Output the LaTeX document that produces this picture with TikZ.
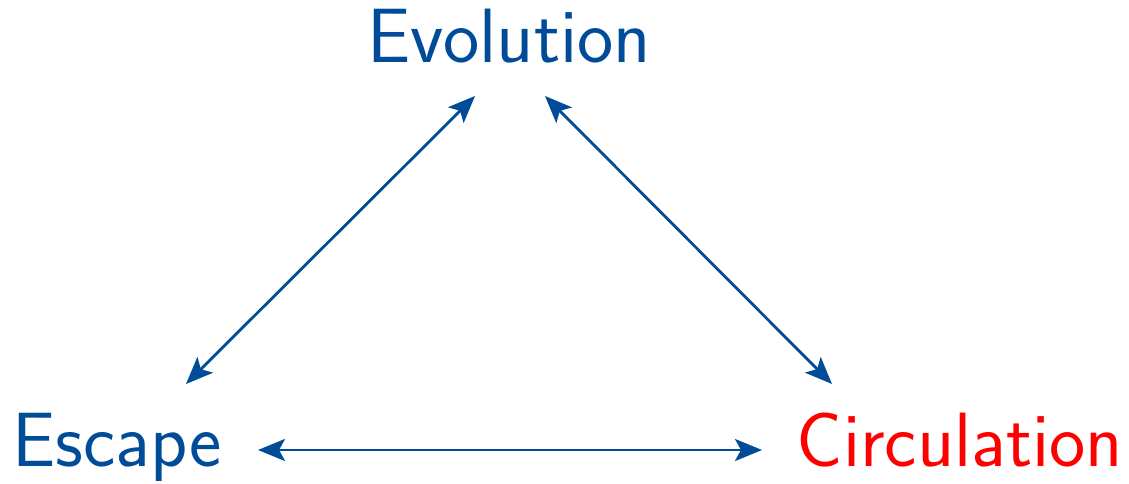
\documentclass[tikz,border=0pt]{standalone}
\usetikzlibrary{arrows.meta,calc}
\definecolor{myblue}{RGB}{0,76,153}
\definecolor{myred}{RGB}{255,0,0}
\tikzset{
  lbl/.style={font=\sffamily\fontsize{77}{90}\selectfont, inner sep=0pt, anchor=base},
  conn/.style={color=myblue, line width=2.8pt, arrows={Stealth[length=27pt,width=22pt,inset=6pt]-Stealth[length=27pt,width=22pt,inset=6pt]}}
}
\begin{document}
\begin{tikzpicture}[x=1pt,y=1pt]
\useasboundingbox (0,0) rectangle (1129,484);
\node[lbl, text=myblue] (evo) at (509,421) {Evolution};
\node[lbl, text=myblue] (esc) at (117,17) {Escape};
\node[lbl, text=myred] (cir) at (960,17) {Circulation};
\coordinate (evoL) at (475,388);
\coordinate (evoR) at (545,388);
\coordinate (escT) at (186,100);
\coordinate (cirT) at (832,100);
\coordinate (escR) at (258,34);
\coordinate (cirL) at (762,34);
\draw[conn] (evoL) -- (escT);
\draw[conn] (evoR) -- (cirT);
\draw[conn] (escR) -- (cirL);
\end{tikzpicture}
\end{document}
